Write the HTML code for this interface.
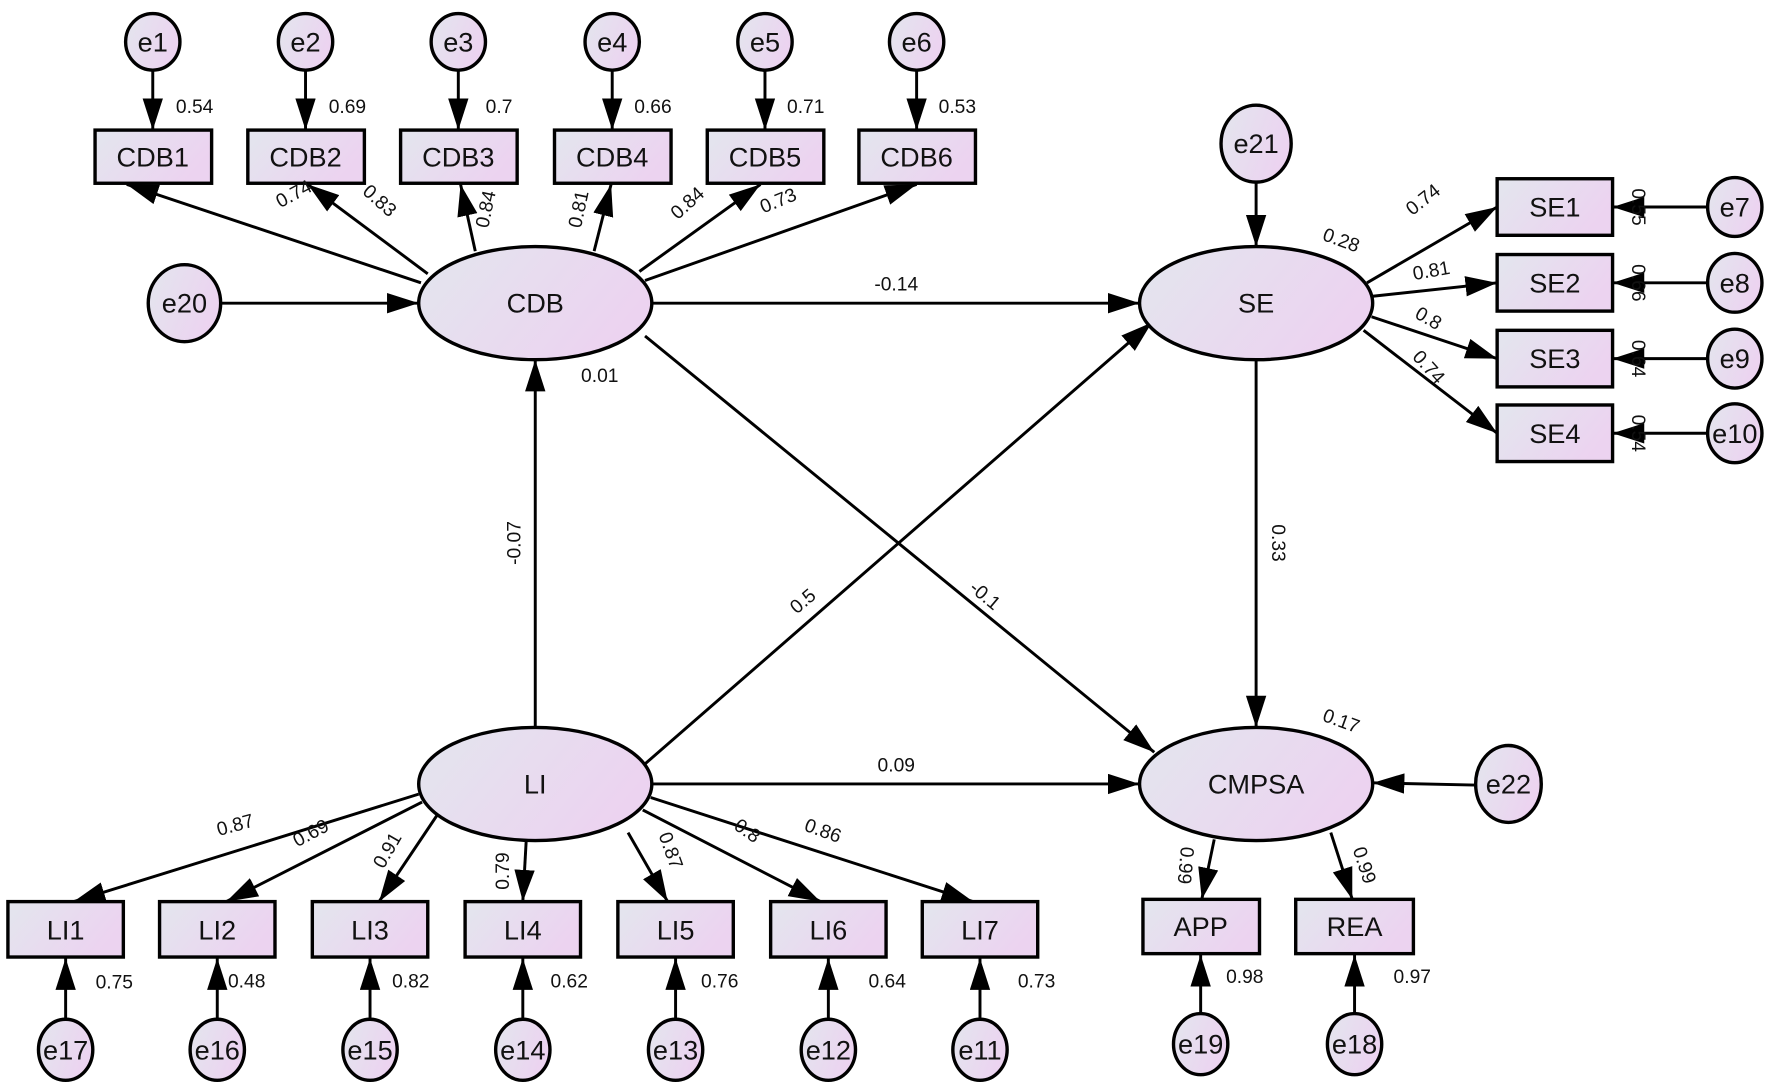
<!DOCTYPE html>
<html><head><meta charset="utf-8"><style>
html,body{margin:0;padding:0;background:#fff;}
svg{display:block;}
text{font-family:"Liberation Sans",Arial,sans-serif;fill:#111;}
.n{font-size:24px;text-anchor:middle;dominant-baseline:central;}
.l{font-size:17px;text-anchor:middle;dominant-baseline:central;}
.s{stroke:#000;stroke-width:3;}
.a{stroke:#000;stroke-width:2.6;fill:none;marker-end:url(#ah);}
</style></head><body>
<svg width="1771" height="1086" viewBox="0 0 1565 960" preserveAspectRatio="none" xmlns="http://www.w3.org/2000/svg">
<defs>
<linearGradient id="g" x1="0" y1="0" x2="1" y2="0.4">
<stop offset="0" stop-color="#e3e6ee"/><stop offset="1" stop-color="#ecd3f0"/></linearGradient>
<marker id="ah" markerUnits="userSpaceOnUse" markerWidth="30" markerHeight="20" refX="28" refY="9" orient="auto">
<path d="M0,0 L28,9 L0,18 z" fill="#000"/></marker>
</defs>

<!-- connectors -->
<g>
<line class="a" x1="135" y1="62" x2="135" y2="115"/>
<line class="a" x1="270" y1="62" x2="270" y2="115"/>
<line class="a" x1="405" y1="62" x2="405" y2="115"/>
<line class="a" x1="541" y1="62" x2="541" y2="115"/>
<line class="a" x1="676" y1="62" x2="676" y2="115"/>
<line class="a" x1="810" y1="62" x2="810" y2="115"/>

<line class="a" x1="372" y1="250" x2="112" y2="163"/>
<line class="a" x1="378" y1="242" x2="272" y2="163"/>
<line class="a" x1="420" y1="222" x2="407" y2="163"/>
<line class="a" x1="525" y1="222" x2="540" y2="163"/>
<line class="a" x1="565" y1="240" x2="672" y2="163"/>
<line class="a" x1="570" y1="248" x2="810" y2="163"/>

<line class="a" x1="196" y1="268" x2="370" y2="268"/>
<line class="a" x1="577" y1="268" x2="1007" y2="268"/>
<line class="a" x1="473" y1="643" x2="473" y2="318"/>
<line class="a" x1="568" y1="677" x2="1018" y2="285"/>
<line class="a" x1="570" y1="297" x2="1020" y2="665"/>
<line class="a" x1="1110" y1="318" x2="1110" y2="643"/>
<line class="a" x1="577" y1="693" x2="1007" y2="693"/>
<line class="a" x1="1110" y1="160" x2="1110" y2="218"/>
<line class="a" x1="1303" y1="694" x2="1213" y2="692"/>

<line class="a" x1="1208" y1="250" x2="1323" y2="183"/>
<line class="a" x1="1212" y1="262" x2="1323" y2="250"/>
<line class="a" x1="1212" y1="280" x2="1323" y2="317"/>
<line class="a" x1="1205" y1="292" x2="1323" y2="383"/>
<line class="a" x1="1508" y1="183" x2="1425" y2="183"/>
<line class="a" x1="1508" y1="250" x2="1425" y2="250"/>
<line class="a" x1="1508" y1="317" x2="1425" y2="317"/>
<line class="a" x1="1508" y1="383" x2="1425" y2="383"/>

<line class="a" x1="370" y1="702" x2="65" y2="797"/>
<line class="a" x1="373" y1="709" x2="200" y2="797"/>
<line class="a" x1="386" y1="721" x2="335" y2="797"/>
<line class="a" x1="465" y1="743" x2="462" y2="797"/>
<line class="a" x1="555" y1="736" x2="590" y2="797"/>
<line class="a" x1="568" y1="716" x2="725" y2="797"/>
<line class="a" x1="575" y1="705" x2="860" y2="797"/>

<line class="a" x1="58" y1="902" x2="58" y2="847"/>
<line class="a" x1="192" y1="902" x2="192" y2="847"/>
<line class="a" x1="327" y1="902" x2="327" y2="847"/>
<line class="a" x1="462" y1="902" x2="462" y2="847"/>
<line class="a" x1="597" y1="902" x2="597" y2="847"/>
<line class="a" x1="732" y1="902" x2="732" y2="847"/>
<line class="a" x1="866" y1="902" x2="866" y2="847"/>

<line class="a" x1="1073" y1="742" x2="1062" y2="795"/>
<line class="a" x1="1176" y1="736" x2="1195" y2="795"/>
<line class="a" x1="1061" y1="897" x2="1061" y2="844"/>
<line class="a" x1="1197" y1="897" x2="1197" y2="844"/>
</g>

<!-- nodes -->
<g fill="url(#g)" class="s">
<ellipse cx="135" cy="37" rx="24" ry="25"/><ellipse cx="270" cy="37" rx="24" ry="25"/>
<ellipse cx="405" cy="37" rx="24" ry="25"/><ellipse cx="541" cy="37" rx="24" ry="25"/>
<ellipse cx="676" cy="37" rx="24" ry="25"/><ellipse cx="810" cy="37" rx="24" ry="25"/>
<rect x="84" y="115" width="103" height="47"/><rect x="219" y="115" width="103" height="47"/>
<rect x="354" y="115" width="103" height="47"/><rect x="490" y="115" width="103" height="47"/>
<rect x="625" y="115" width="103" height="47"/><rect x="759" y="115" width="103" height="47"/>
<ellipse cx="473" cy="268" rx="103" ry="50"/>
<ellipse cx="163" cy="268" rx="32" ry="34"/>
<ellipse cx="1110" cy="268" rx="103" ry="50"/>
<ellipse cx="1110" cy="127" rx="31" ry="34"/>
<rect x="1323" y="158" width="102" height="50"/><rect x="1323" y="225" width="102" height="50"/>
<rect x="1323" y="292" width="102" height="50"/><rect x="1323" y="358" width="102" height="50"/>
<ellipse cx="1533" cy="183" rx="24" ry="26"/><ellipse cx="1533" cy="250" rx="24" ry="26"/>
<ellipse cx="1533" cy="317" rx="24" ry="26"/><ellipse cx="1533" cy="383" rx="24" ry="26"/>
<ellipse cx="473" cy="693" rx="103" ry="50"/>
<ellipse cx="1110" cy="693" rx="103" ry="50"/>
<ellipse cx="1333" cy="693" rx="29" ry="34"/>
<rect x="7" y="797" width="102" height="49"/><rect x="141" y="797" width="102" height="49"/>
<rect x="276" y="797" width="102" height="49"/><rect x="411" y="797" width="102" height="49"/>
<rect x="546" y="797" width="102" height="49"/><rect x="681" y="797" width="102" height="49"/>
<rect x="815" y="797" width="102" height="49"/>
<rect x="1010" y="795" width="103" height="48"/><rect x="1145" y="795" width="104" height="48"/>
<ellipse cx="58" cy="928" rx="24" ry="27"/><ellipse cx="192" cy="928" rx="24" ry="27"/>
<ellipse cx="327" cy="928" rx="24" ry="27"/><ellipse cx="462" cy="928" rx="24" ry="27"/>
<ellipse cx="597" cy="928" rx="24" ry="27"/><ellipse cx="732" cy="928" rx="24" ry="27"/>
<ellipse cx="866" cy="928" rx="24" ry="27"/>
<ellipse cx="1061" cy="923" rx="24" ry="27"/><ellipse cx="1197" cy="923" rx="24" ry="27"/>
</g>

<!-- node labels -->
<g class="n">
<text class="n" x="135" y="37">e1</text><text class="n" x="270" y="37">e2</text><text class="n" x="405" y="37">e3</text>
<text class="n" x="541" y="37">e4</text><text class="n" x="676" y="37">e5</text><text class="n" x="810" y="37">e6</text>
<text class="n" x="135" y="139">CDB1</text><text class="n" x="270" y="139">CDB2</text><text class="n" x="405" y="139">CDB3</text>
<text class="n" x="541" y="139">CDB4</text><text class="n" x="676" y="139">CDB5</text><text class="n" x="810" y="139">CDB6</text>
<text class="n" x="473" y="268">CDB</text><text class="n" x="163" y="268">e20</text>
<text class="n" x="1110" y="268">SE</text><text class="n" x="1110" y="127">e21</text>
<text class="n" x="1374" y="183">SE1</text><text class="n" x="1374" y="250">SE2</text>
<text class="n" x="1374" y="317">SE3</text><text class="n" x="1374" y="383">SE4</text>
<text class="n" x="1533" y="183">e7</text><text class="n" x="1533" y="250">e8</text>
<text class="n" x="1533" y="317">e9</text><text class="n" x="1533" y="383">e10</text>
<text class="n" x="473" y="693">LI</text><text class="n" x="1110" y="693">CMPSA</text><text class="n" x="1333" y="693">e22</text>
<text class="n" x="58" y="822">LI1</text><text class="n" x="192" y="822">LI2</text><text class="n" x="327" y="822">LI3</text>
<text class="n" x="462" y="822">LI4</text><text class="n" x="597" y="822">LI5</text><text class="n" x="732" y="822">LI6</text>
<text class="n" x="866" y="822">LI7</text>
<text class="n" x="1061" y="819">APP</text><text class="n" x="1197" y="819">REA</text>
<text class="n" x="58" y="928">e17</text><text class="n" x="192" y="928">e16</text><text class="n" x="327" y="928">e15</text>
<text class="n" x="462" y="928">e14</text><text class="n" x="597" y="928">e13</text><text class="n" x="732" y="928">e12</text>
<text class="n" x="866" y="928">e11</text>
<text class="n" x="1061" y="923">e19</text><text class="n" x="1197" y="923">e18</text>
</g>

<!-- coefficient labels -->
<g>
<text class="l" x="172" y="95">0.54</text><text class="l" x="307" y="95">0.69</text><text class="l" x="441" y="95">0.7</text>
<text class="l" x="577" y="95">0.66</text><text class="l" x="712" y="95">0.71</text><text class="l" x="846" y="95">0.53</text>
<text class="l" transform="translate(260,172) rotate(-28)">0.74</text>
<text class="l" transform="translate(335,178) rotate(42)">0.83</text>
<text class="l" transform="translate(430,185) rotate(-78)">0.84</text>
<text class="l" transform="translate(512,185) rotate(-78)">0.81</text>
<text class="l" transform="translate(608,180) rotate(-42)">0.84</text>
<text class="l" transform="translate(688,178) rotate(-22)">0.73</text>
<text class="l" x="792" y="252">-0.14</text>
<text class="l" x="530" y="333">0.01</text>
<text class="l" transform="translate(455,480) rotate(-90)">-0.07</text>
<text class="l" transform="translate(710,532) rotate(-40)">0.5</text>
<text class="l" transform="translate(870,527) rotate(40)">-0.1</text>
<text class="l" transform="translate(1129,480) rotate(90)">0.33</text>
<text class="l" x="792" y="677">0.09</text>
<text class="l" transform="translate(1185,213) rotate(20)">0.28</text>
<text class="l" transform="translate(1185,638) rotate(20)">0.17</text>
<text class="l" transform="translate(1258,177) rotate(-38)">0.74</text>
<text class="l" transform="translate(1265,240) rotate(-10)">0.81</text>
<text class="l" transform="translate(1262,282) rotate(30)">0.8</text>
<text class="l" transform="translate(1262,325) rotate(48)">0.74</text>
<text class="l" transform="translate(1447,183) rotate(90)">0.55</text>
<text class="l" transform="translate(1447,250) rotate(90)">0.66</text>
<text class="l" transform="translate(1447,317) rotate(90)">0.64</text>
<text class="l" transform="translate(1447,383) rotate(90)">0.54</text>
<text class="l" transform="translate(208,730) rotate(-15)">0.87</text>
<text class="l" transform="translate(275,737) rotate(-28)">0.69</text>
<text class="l" transform="translate(343,752) rotate(-60)">0.91</text>
<text class="l" transform="translate(445,770) rotate(-90)">0.79</text>
<text class="l" transform="translate(592,752) rotate(70)">0.87</text>
<text class="l" transform="translate(660,735) rotate(35)">0.8</text>
<text class="l" transform="translate(727,735) rotate(20)">0.86</text>
<text class="l" transform="translate(1047,765) rotate(95)">0.99</text>
<text class="l" transform="translate(1205,765) rotate(72)">0.99</text>
<text class="l" x="101" y="869">0.75</text><text class="l" x="218" y="868">0.48</text><text class="l" x="363" y="868">0.82</text>
<text class="l" x="503" y="868">0.62</text><text class="l" x="636" y="868">0.76</text><text class="l" x="784" y="868">0.64</text>
<text class="l" x="916" y="868">0.73</text>
<text class="l" x="1100" y="864">0.98</text><text class="l" x="1248" y="864">0.97</text>
</g>
</svg>
</body></html>
